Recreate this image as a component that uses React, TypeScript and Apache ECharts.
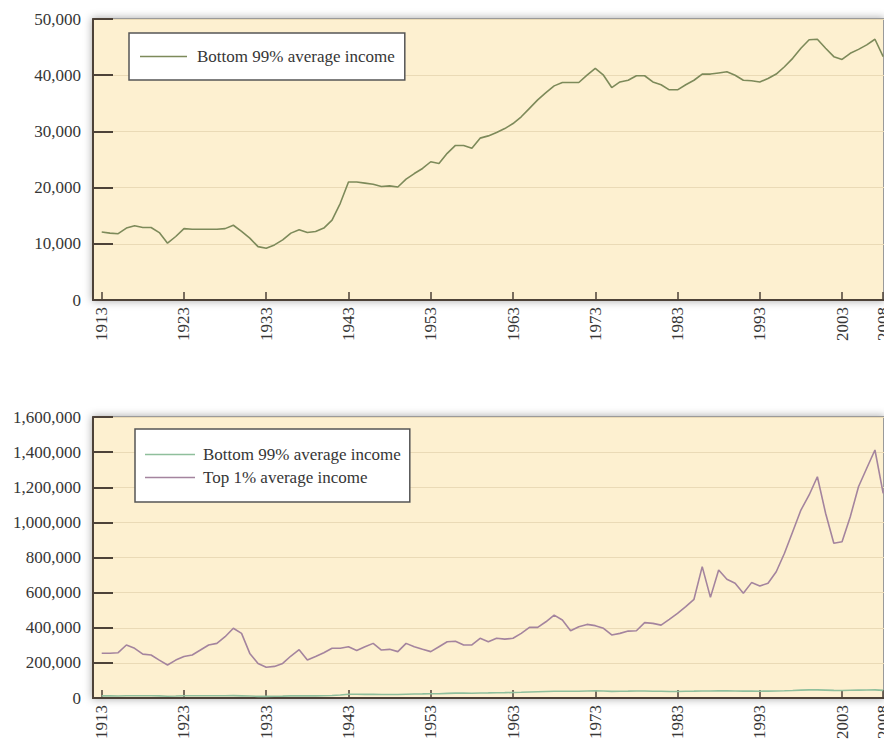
import React, { useEffect, useRef } from "react";
import * as echarts from "echarts";

const years: number[] = Array.from({ length: 96 }, (_, i) => 1913 + i);

const bottom99: number[] = [
  12100, 11900, 11800, 12800, 13200, 12900, 12900, 12000, 10100, 11300,
  12700, 12600, 12600, 12600, 12600, 12700, 13300, 12200, 11000, 9500,
  9200, 9800, 10700, 11900, 12500, 12000, 12200, 12800, 14200, 17200,
  21000, 21000, 20800, 20600, 20200, 20300, 20100, 21500, 22500, 23400,
  24600, 24300, 26100, 27500, 27500, 27000, 28800, 29200, 29800, 30500,
  31400, 32600, 34100, 35600, 36900, 38100, 38700, 38700, 38700, 40000,
  41200, 40000, 37800, 38800, 39100, 39900, 39900, 38800, 38300, 37400,
  37400, 38300, 39100, 40200, 40200, 40400, 40600, 40000, 39100, 39000,
  38800, 39400, 40200, 41500, 43000, 44800, 46300, 46400, 44800, 43300,
  42800, 43900, 44600, 45400, 46400, 43300,
];

const top1: number[] = [
  255000, 255000, 258000, 302000, 283000, 250000, 245000, 216000, 188000, 216000,
  236000, 245000, 273000, 302000, 311000, 349000, 397000, 368000, 254000, 197000,
  175000, 180000, 197000, 239000, 275000, 216000, 236000, 258000, 283000, 283000,
  292000, 271000, 292000, 311000, 273000, 277000, 264000, 311000, 292000, 277000,
  264000, 292000, 320000, 323000, 302000, 302000, 340000, 320000, 340000, 335000,
  340000, 368000, 402000, 402000, 434000, 472000, 444000, 383000, 406000, 419000,
  412000, 397000, 359000, 368000, 381000, 383000, 429000, 425000, 415000, 448000,
  482000, 520000, 562000, 748000, 573000, 729000, 676000, 653000, 596000, 657000,
  638000, 653000, 719000, 824000, 947000, 1070000, 1156000, 1260000, 1052000, 881000,
  890000, 1032000, 1203000, 1308000, 1412000, 1165000,
];

const tickYears: number[] = [1913, 1923, 1933, 1943, 1953, 1963, 1973, 1983, 1993, 2003, 2008];

const NAME_B = "Bottom 99% average income";
const NAME_T = "Top 1% average income";

const FONT = "'Liberation Serif', 'Times New Roman', serif";
const AXIS_DARK = "#4d4238";
const TEXT = "#363636";

export default function App() {
  const ref = useRef<HTMLDivElement>(null);

  useEffect(() => {
    if (!ref.current) return;
    const chart = echarts.init(ref.current, null, { renderer: "svg" });

    const gridBase = {
      left: 93,
      right: 0,
      height: 281,
      outerBoundsMode: "none",
      containLabel: false,
      show: true,
      backgroundColor: "#fdf0d0",
      borderColor: "#9a9a9a",
      borderWidth: 2,
      shadowBlur: 8,
      shadowColor: "rgba(0,0,0,0.35)",
    };

    const xAxisBase = (gridIndex: number) => ({
      type: "value",
      gridIndex,
      min: 1911.94,
      max: 2008.1,
      axisLine: { show: true, onZero: false, lineStyle: { color: AXIS_DARK, width: 2 } },
      axisTick: {
        show: true,
        inside: true,
        length: 8,
        customValues: tickYears,
        lineStyle: { color: AXIS_DARK, width: 1.5 },
      },
      axisLabel: {
        customValues: tickYears,
        rotate: 90,
        margin: 7,
        fontSize: 17,
        fontFamily: FONT,
        color: TEXT,
        hideOverlap: false,
        formatter: (v: number) => String(Math.round(v)),
      },
      splitLine: { show: false },
    });

    const yAxisBase = (gridIndex: number, max: number, interval: number) => ({
      type: "value",
      gridIndex,
      min: 0,
      max,
      interval,
      axisLine: { show: true, lineStyle: { color: AXIS_DARK, width: 2 } },
      axisTick: { show: true, inside: true, length: 20, lineStyle: { color: AXIS_DARK, width: 2 } },
      axisLabel: {
        margin: 12,
        fontSize: 17,
        fontFamily: FONT,
        color: TEXT,
        formatter: (v: number) => v.toLocaleString("en-US"),
      },
      splitLine: { show: true, lineStyle: { color: "#eadab6", width: 1 } },
    });

    const legendBase = {
      backgroundColor: "#ffffff",
      borderColor: "#555",
      borderWidth: 1.5,
      icon: "rect",
      itemHeight: 1.5,
      selectedMode: false,
      textStyle: { fontSize: 17, fontFamily: FONT, color: TEXT, lineHeight: 17 },
    };

    chart.setOption({
      animation: false,
      grid: [
        { ...gridBase, top: 19 },
        { ...gridBase, top: 417 },
      ],
      xAxis: [xAxisBase(0), xAxisBase(1)],
      yAxis: [yAxisBase(0, 50000, 10000), yAxisBase(1, 1600000, 200000)],
      legend: [
        {
          ...legendBase,
          left: 129,
          top: 33,
          padding: [15, 10, 15, 11],
          itemWidth: 47,
          textStyle: { ...legendBase.textStyle, padding: [0, 0, 0, 5] },
          data: [{ name: NAME_B, itemStyle: { color: "#7d8a5a" } }],
        },
        {
          ...legendBase,
          left: 135,
          top: 429,
          orient: "vertical",
          itemGap: 6,
          padding: [17, 9, 16, 10],
          itemWidth: 50,
          textStyle: { ...legendBase.textStyle, padding: [0, 0, 0, 3] },
          data: [
            { name: NAME_B, itemStyle: { color: "#8fbf9c" } },
            { name: NAME_T, itemStyle: { color: "#a4849e" } },
          ],
        },
      ],
      series: [
        {
          name: NAME_B,
          type: "line",
          xAxisIndex: 0,
          yAxisIndex: 0,
          showSymbol: false,
          lineStyle: { color: "#7d8a5a", width: 1.6 },
          itemStyle: { color: "#7d8a5a" },
          data: years.map((y, i) => [y, bottom99[i]]),
        },
        {
          name: NAME_B,
          type: "line",
          xAxisIndex: 1,
          yAxisIndex: 1,
          showSymbol: false,
          lineStyle: { color: "#8fbf9c", width: 1.6 },
          itemStyle: { color: "#8fbf9c" },
          data: years.map((y, i) => [y, bottom99[i]]),
        },
        {
          name: NAME_T,
          type: "line",
          xAxisIndex: 1,
          yAxisIndex: 1,
          showSymbol: false,
          lineStyle: { color: "#a4849e", width: 1.6 },
          itemStyle: { color: "#a4849e" },
          data: years.map((y, i) => [y, top1[i]]),
        },
      ],
    });

    return () => {
      chart.dispose();
    };
  }, []);

  return (
    <div
      ref={ref}
      style={{ position: "absolute", left: 0, top: 0, width: 884, height: 747 }}
    />
  );
}
